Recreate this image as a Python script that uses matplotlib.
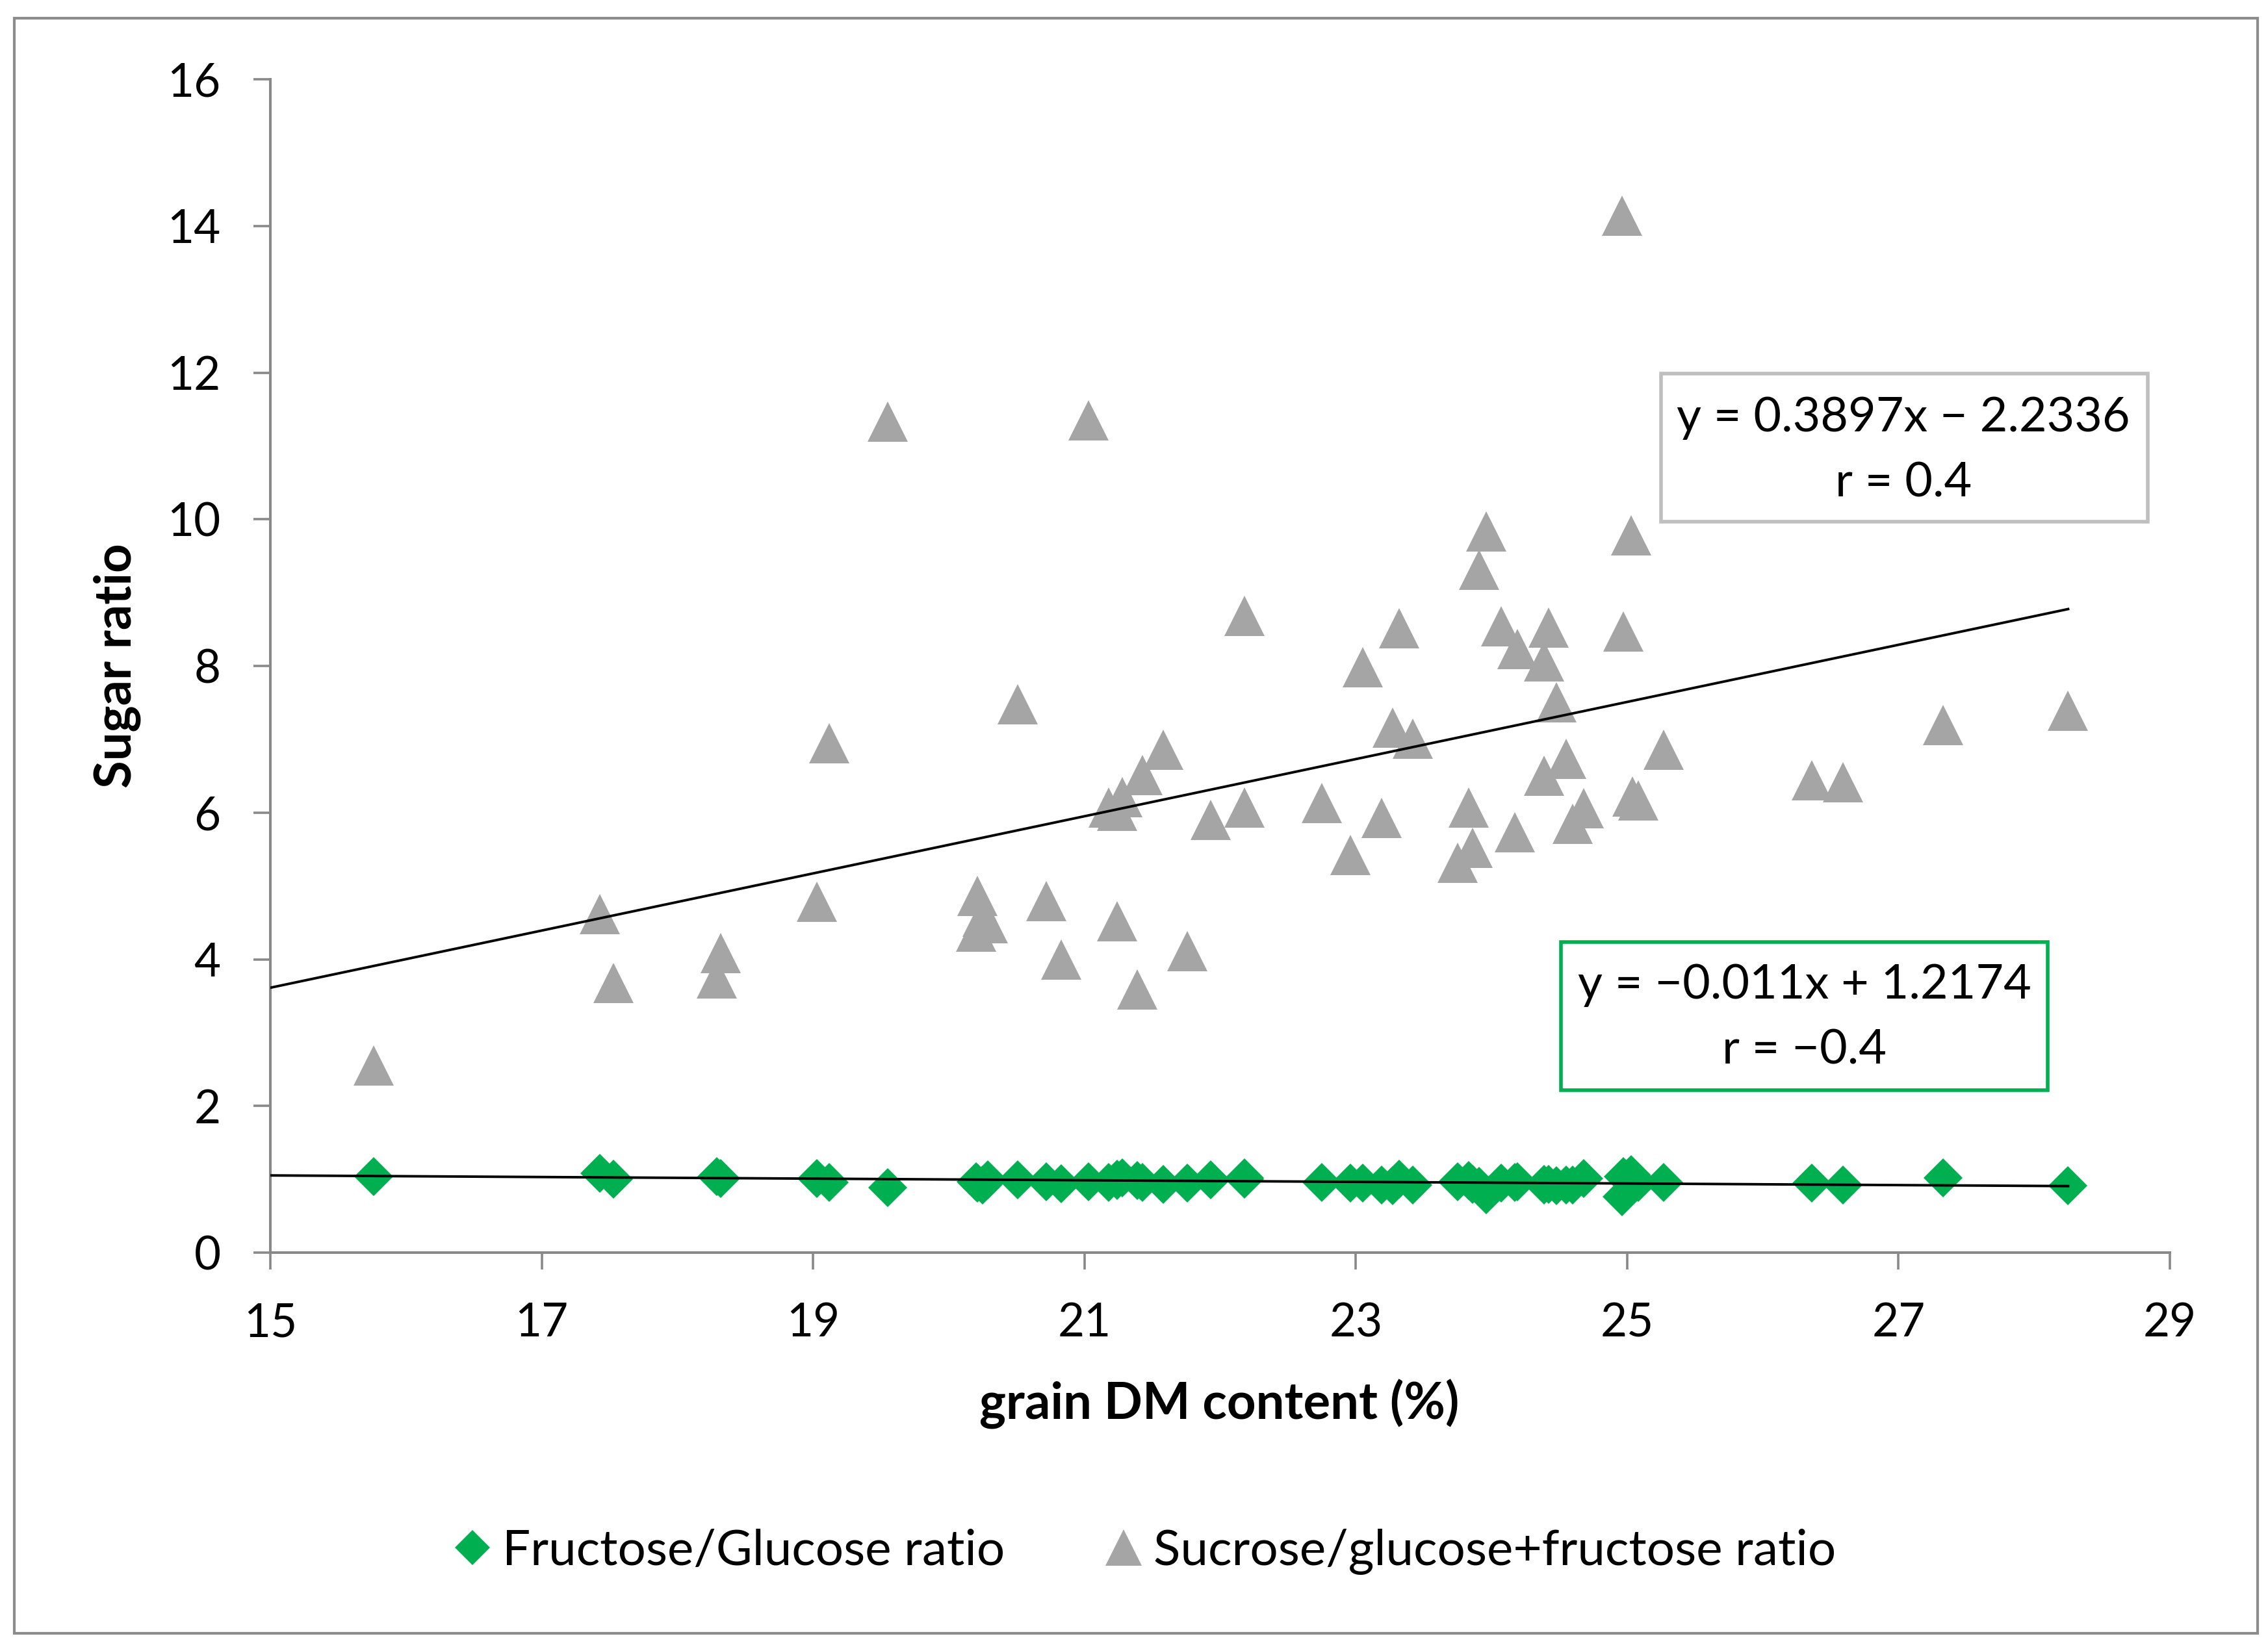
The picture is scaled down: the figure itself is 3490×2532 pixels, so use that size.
import matplotlib
matplotlib.use("Agg")
import matplotlib.pyplot as plt
from matplotlib.patches import Rectangle
from matplotlib.lines import Line2D
import numpy as np

plt.rcParams['font.family'] = ['Lato', 'DejaVu Sans']

# ---- data ----
dm_content = [15.76, 17.43, 17.53, 18.29, 18.32, 19.03, 19.12, 19.55, 20.21, 20.25,
              20.29, 20.20, 20.51, 20.72, 20.83, 21.03, 21.18, 21.28, 21.24, 21.24,
              21.39, 21.43, 21.58, 21.76, 21.93, 22.18, 22.18, 22.75, 22.96, 23.05,
              23.19, 23.27, 23.32, 23.42, 23.75, 23.83, 23.86, 23.91, 23.96, 24.07,
              24.17, 24.19, 24.39, 24.39, 24.42, 24.48, 24.55, 24.60, 24.68, 24.96,
              24.97, 25.03, 25.04, 25.08, 25.27, 26.36, 26.59, 27.33, 28.25]
sucrose_ratio = [2.55, 4.62, 3.68, 3.74, 4.08, 4.78, 6.95, 11.33, 4.86, 4.58,
                 4.49, 4.38, 7.48, 4.79, 4.00, 11.35, 6.07, 6.21, 6.02, 4.52,
                 3.59, 6.51, 6.86, 4.11, 5.90, 8.68, 6.07, 6.13, 5.42, 7.98,
                 5.93, 7.16, 8.51, 7.01, 5.32, 6.07, 5.52, 9.31, 9.83, 8.54,
                 5.73, 8.23, 8.06, 6.50, 8.52, 7.50, 6.73, 5.85, 6.06, 14.14,
                 8.47, 9.78, 6.22, 6.17, 6.86, 6.44, 6.41, 7.19, 7.39]
fructose_ratio = [1.04, 1.08, 1.00, 1.04, 1.01, 1.01, 0.96, 0.89, 0.95, 0.92,
                  0.99, 0.97, 0.99, 0.97, 0.94, 0.97, 0.96, 1.02, 0.98, 1.00,
                  0.98, 0.96, 0.93, 0.95, 0.99, 1.00, 1.02, 0.96, 0.95, 0.95,
                  0.92, 0.91, 1.00, 0.92, 0.97, 0.98, 0.93, 0.90, 0.79, 0.95,
                  0.96, 0.97, 0.93, 0.92, 0.93, 0.91, 0.92, 0.92, 1.01, 0.76,
                  1.04, 1.06, 0.92, 0.96, 0.96, 0.95, 0.92, 1.02, 0.91]

sucrose_fit = (0.3897, -2.2336)
fructose_fit = (-0.011, 1.2174)
fit_range = [15.0, 28.25]

x_ticks = [15, 17, 19, 21, 23, 25, 27, 29]
y_ticks = [0, 2, 4, 6, 8, 10, 12, 14, 16]

series_labels = ["Fructose/Glucose ratio", "Sucrose/glucose+fructose ratio"]
eq_sucrose = ["y = 0.3897x \u2212 2.2336", "r = 0.4"]
eq_fructose = ["y = \u22120.011x + 1.2174", "r = \u22120.4"]

GREEN = "#00b050"
GREY = "#a5a5a5"
AXC = "#898989"

W, H = 3490, 2532
dpi = 200
fig = plt.figure(figsize=(W / dpi, H / dpi), dpi=dpi)

def fx(px):
    return px / W

def fy(py):
    return 1 - py / H

# outer border
fig.patches.append(Rectangle((fx(22), fy(2514)), fx(3474) - fx(22), fy(28) - fy(2514),
                             transform=fig.transFigure, fill=False, edgecolor="#8c8c8c",
                             linewidth=1.5, zorder=0))

ax = fig.add_axes([fx(416), fy(1928), fx(3339) - fx(416), fy(122) - fy(1928)])

ax.plot(dm_content, fructose_ratio, linestyle="none", marker="D", markersize=15.5,
        color=GREEN, markeredgewidth=0, zorder=3, label=series_labels[0])
ax.plot(dm_content, sucrose_ratio, linestyle="none", marker="^", markersize=22,
        color=GREY, markeredgewidth=0, zorder=3, label=series_labels[1])

xf = np.array(fit_range)
ax.plot(xf, sucrose_fit[0] * xf + sucrose_fit[1], color="black", linewidth=1.4, zorder=4)
ax.plot(xf, fructose_fit[0] * xf + fructose_fit[1], color="black", linewidth=1.4, zorder=4)

ax.set_xlim(15, 29)
ax.set_ylim(0, 16)
ax.set_xticks(x_ticks)
ax.set_yticks(y_ticks)
ax.tick_params(axis="both", direction="out", length=9.5, width=1.3, color=AXC,
               labelsize=25.5, pad=18, labelcolor="black")
for s in ["top", "right"]:
    ax.spines[s].set_visible(False)
for s in ["left", "bottom"]:
    ax.spines[s].set_color(AXC)
    ax.spines[s].set_linewidth(1.45)

fig.text(fx(180), fy(1025), "Sugar ratio", rotation=90, ha="center", va="center",
         fontsize=28, fontweight="bold")
fig.text(fx(1876), fy(2161), "grain DM content (%)", ha="center", va="center",
         fontsize=28, fontweight="bold")

# equation boxes
def eq_box(x0, y0, x1, y1, color, lines, cx, ys):
    fig.patches.append(Rectangle((fx(x0), fy(y1)), fx(x1) - fx(x0), fy(y0) - fy(y1),
                                 transform=fig.transFigure, fill=True, facecolor="white",
                                 edgecolor=color, linewidth=2.0, zorder=5))
    for t, yy in zip(lines, ys):
        fig.text(fx(cx), fy(yy), t, ha="center", va="center", fontsize=26.5, zorder=6)

eq_box(2556, 575, 3305, 803, "#bfbfbf", eq_sucrose, 2929, [644, 744])
eq_box(2402, 1450, 3151, 1678, GREEN, eq_fructose, 2777, [1516, 1617])

handles = [Line2D([], [], linestyle="none", marker="D", markersize=14, color=GREEN,
                  markeredgewidth=0),
           Line2D([], [], linestyle="none", marker="^", markersize=20, color=GREY,
                  markeredgewidth=0)]
fig.legend(handles, series_labels, loc="center", bbox_to_anchor=(fx(1761), fy(2388)),
           ncol=2, frameon=False, fontsize=27.5, handlelength=0.8, handletextpad=0.2,
           columnspacing=2.0)

fig.savefig("out.png", dpi=dpi)
